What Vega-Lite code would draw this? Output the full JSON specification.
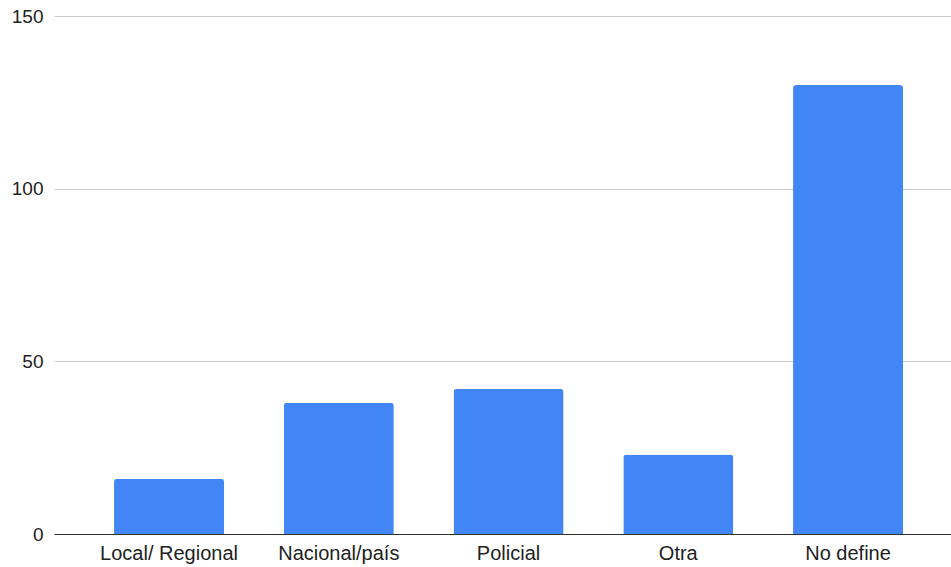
{
  "$schema": "https://vega.github.io/schema/vega-lite/v6.json",
  "autosize": {"type": "none"},
  "width": 897,
  "height": 518,
  "padding": {"left": 54, "top": 16, "right": 0, "bottom": 33},
  "background": "white",
  "config": {"view": {"stroke": null}},
  "data": {
    "values": [
      {"categoria": "Local/ Regional", "valor": 16},
      {"categoria": "Nacional/país", "valor": 38},
      {"categoria": "Policial", "valor": 42},
      {"categoria": "Otra", "valor": 23},
      {"categoria": "No define", "valor": 130}
    ]
  },
  "mark": {"type": "bar", "color": "#4285F4", "cornerRadiusTopLeft": 3, "cornerRadiusTopRight": 3},
  "encoding": {
    "x": {
      "field": "categoria",
      "type": "nominal",
      "sort": null,
      "scale": {"paddingInner": 0.352, "paddingOuter": 0.318, "align": 0.556},
      "axis": {
        "title": null,
        "labelAngle": 0,
        "labelFont": "Liberation Sans",
        "labelFontSize": 20,
        "labelColor": "#222222",
        "labelPadding": 9,
        "ticks": false,
        "domainColor": "#333333",
        "domainWidth": 1
      }
    },
    "y": {
      "field": "valor",
      "type": "quantitative",
      "scale": {"domain": [0, 150], "nice": false},
      "axis": {
        "title": null,
        "values": [0, 50, 100, 150],
        "labelFont": "Liberation Sans",
        "labelFontSize": 19,
        "labelColor": "#222222",
        "labelPadding": 11,
        "ticks": false,
        "domain": false,
        "gridColor": "#cccccc",
        "gridWidth": 1
      }
    }
  }
}
